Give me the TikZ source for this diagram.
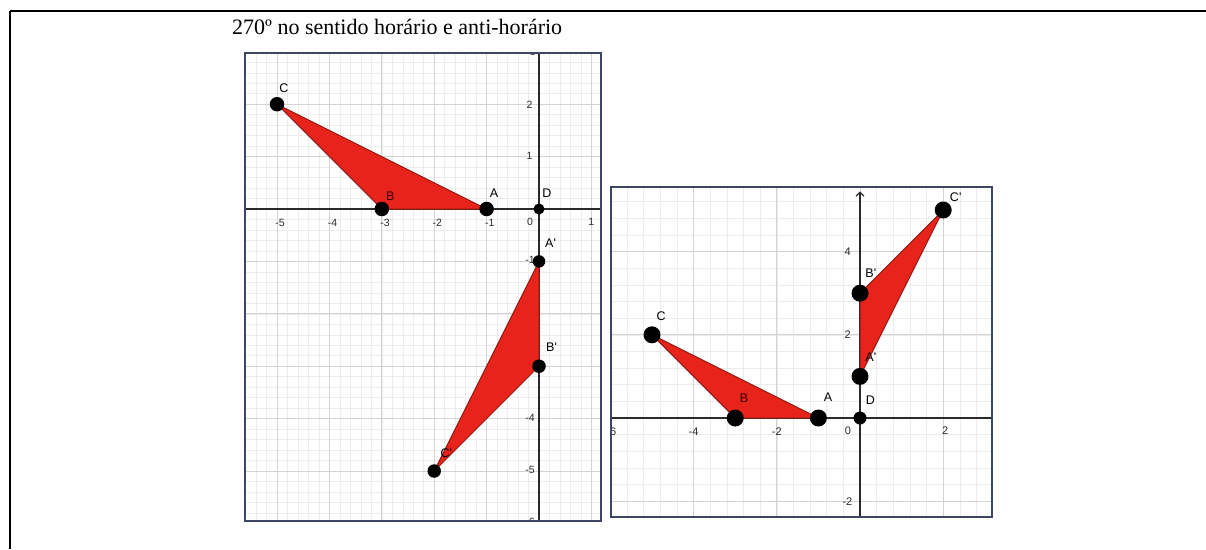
\documentclass[tikz,border=0pt]{standalone}
\usepackage{fontspec}
\setmainfont{Liberation Serif}
\newfontfamily\labfont{Liberation Sans}
\usetikzlibrary{arrows.meta}
\definecolor{framec}{HTML}{3C4766}
\definecolor{redfill}{HTML}{E8231B}
\definecolor{rededge}{HTML}{8E1A12}
\definecolor{gridmaj}{HTML}{D3D3D3}
\definecolor{gridmin}{HTML}{ECECEC}
\definecolor{axisc}{HTML}{2A2A2A}
\tikzset{
  gframe/.style={draw=framec,line width=1.8pt},
  gminor/.style={draw=gridmin,line width=0.5pt},
  gmajor/.style={draw=gridmaj,line width=0.9pt},
  gaxis/.style={draw=axisc,line width=1.3pt},
  tri/.style={fill=redfill,draw=rededge,line width=1pt,line join=round},
  dotL/.style={circle,fill=black,inner sep=0pt,minimum size=14.5pt},
  dotLs/.style={circle,fill=black,inner sep=0pt,minimum size=11pt},
  dotR/.style={circle,fill=black,inner sep=0pt,minimum size=17pt},
  dotRs/.style={circle,fill=black,inner sep=0pt,minimum size=13pt},
  tickL/.style={inner sep=0pt,font=\labfont\fontsize{10.5}{12}\selectfont,text=axisc},
  tickR/.style={inner sep=0pt,font=\labfont\fontsize{11}{13}\selectfont,text=axisc},
  ptlab/.style={inner sep=0pt,font=\labfont\fontsize{12.5}{14}\selectfont,text=black},
  border/.style={draw=black,line width=1.2pt},
  borderthick/.style={draw=black,line width=2.4pt}
}
\begin{document}
\begin{tikzpicture}[x=1pt,y=1pt]
\useasboundingbox (0,0) rectangle (1206,-549);
% table borders
\coordinate (tl) at (10,-11);
\coordinate (tm) at (1004,-11);
\coordinate (tr) at (1206,-11);
\coordinate (bl) at (10,-549);
\draw[border] (tl) -- (tm);
\draw[borderthick] (tm) -- (tr);
\draw[borderthick] (tl) -- (bl);
% title
\node[anchor=base west,inner sep=0pt,font=\fontsize{22}{26}\selectfont] (title) at (232,-34) {270º no sentido horário e anti-horário};

% ================= LEFT GRAPH =================
\begin{scope}[shift={(539pt,-209pt)},x=52.4pt,y=52.4pt]
  \def\xa{-5.61}\def\xb{1.18}\def\ya{-5.95}\def\yb{2.98}
  \begin{scope}
    \clip (\xa,\ya) rectangle (\xb,\yb);
    \foreach \i in {-29,...,6} \draw[gminor] (\i/5,\ya) -- (\i/5,\yb);
    \foreach \j in {-30,...,15} \draw[gminor] (\xa,\j/5) -- (\xb,\j/5);
    \foreach \i in {-5,...,1} \draw[gmajor] (\i,\ya) -- (\i,\yb);
    \foreach \j in {-5,...,2} \draw[gmajor] (\xa,\j) -- (\xb,\j);
    \coordinate (Lxl) at (\xa,0); \coordinate (Lxr) at (\xb,0);
    \coordinate (Lyb) at (0,\ya); \coordinate (Lyt) at (0,\yb);
    \draw[gaxis] (Lxl) -- (Lxr);
    \draw[gaxis] (Lyb) -- (Lyt);
    \foreach \i in {-5,-4,-3,-2,-1}
      \node[tickL] (Ltx\i) at (\i+0.06,-0.26) {-\the\numexpr-\i\relax};
    \node[tickL] (Ltx0) at (-0.17,-0.25) {0};
    \node[tickL] (Ltx1) at (1.0,-0.25) {1};
    \node[tickL,anchor=east] (Lty3) at (-0.06,3.0) {3};
    \node[tickL,anchor=east] (Lty2) at (-0.12,1.98) {2};
    \node[tickL,anchor=east] (Lty1) at (-0.12,1.01) {1};
    \foreach \j in {-1,-2,-3,-4,-5,-6}
      \node[tickL,anchor=east] (Lty\j) at (-0.08,\j+0.02) {-\the\numexpr-\j\relax};
  \end{scope}
  % triangles
  \coordinate (LA) at (-1,0); \coordinate (LB) at (-3,0); \coordinate (LC) at (-5,2);
  \coordinate (LAp) at (0,-1); \coordinate (LBp) at (0,-3); \coordinate (LCp) at (-2,-5);
  \filldraw[tri] (LA) -- (LB) -- (LC) -- cycle;
  \filldraw[tri] (LAp) -- (LBp) -- (LCp) -- cycle;
  % points
  \node[dotL] (LAd) at (LA) {};
  \node[dotL] (LBd) at (LB) {};
  \node[dotL] (LCd) at (LC) {};
  \node[dotLs] (LDd) at (0,0) {};
  \node[dotL,minimum size=12.5pt] (LApd) at (LAp) {};
  \node[dotL,minimum size=13.5pt] (LBpd) at (LBp) {};
  \node[dotL,minimum size=13.5pt] (LCpd) at (LCp) {};
  % point labels
  \node[ptlab] (LAl) at (-0.86,0.31) {A};
  \node[ptlab,text=black!80!red] (LBl) at (-2.84,0.25) {B};
  \node[ptlab] (LCl) at (-4.87,2.31) {C};
  \node[ptlab] (LDl) at (0.15,0.31) {D};
  \node[ptlab] (LApl) at (0.22,-0.65) {A'};
  \node[ptlab] (LBpl) at (0.24,-2.63) {B'};
  \node[ptlab] (LCpl) at (-1.77,-4.66) {C'};
  % frame
  \draw[gframe] (\xa,\ya) rectangle (\xb,\yb);
\end{scope}

% ================= RIGHT GRAPH =================
\begin{scope}[shift={(860pt,-418pt)},x=41.6pt,y=41.6pt]
  \def\xa{-5.99}\def\xb{3.17}\def\ya{-2.38}\def\yb{5.55}
  \begin{scope}
    \clip (\xa,\ya) rectangle (\xb,\yb);
    \foreach \i in {-15,...,8} \draw[gminor] (\i*0.4,\ya) -- (\i*0.4,\yb);
    \foreach \j in {-6,...,14} \draw[gminor] (\xa,\j*0.4) -- (\xb,\j*0.4);
    \foreach \i in {-6,-4,-2,0,2} \draw[gmajor] (\i,\ya) -- (\i,\yb);
    \foreach \j in {-2,0,2,4} \draw[gmajor] (\xa,\j) -- (\xb,\j);
    \coordinate (Rxl) at (\xa,0); \coordinate (Rxr) at (\xb,0);
    \coordinate (Ryb) at (0,\ya); \coordinate (Ryt) at (0,5.45);
    \draw[gaxis] (Rxl) -- (Rxr);
    \draw[gaxis,-{Straight Barb[length=4pt,width=8pt]}] (Ryb) -- (Ryt);
    \node[tickR] (Rtx6) at (-5.98,-0.34) {-6};
    \node[tickR] (Rtx4) at (-4.0,-0.34) {-4};
    \node[tickR] (Rtx2) at (-2.0,-0.34) {-2};
    \node[tickR] (Rtx0) at (-0.29,-0.30) {0};
    \node[tickR] (Rtxp2) at (2.05,-0.30) {2};
    \node[tickR,anchor=east] (Rty4) at (-0.22,4.0) {4};
    \node[tickR,anchor=east] (Rty2) at (-0.22,2.0) {2};
    \node[tickR,anchor=east] (Rtym2) at (-0.18,-2.0) {-2};
  \end{scope}
  % triangles
  \coordinate (RA) at (-1,0); \coordinate (RB) at (-3,0); \coordinate (RC) at (-5,2);
  \coordinate (RAp) at (0,1); \coordinate (RBp) at (0,3); \coordinate (RCp) at (2,5);
  \filldraw[tri] (RA) -- (RB) -- (RC) -- cycle;
  \filldraw[tri] (RAp) -- (RBp) -- (RCp) -- cycle;
  % points
  \node[dotR] (RAd) at (RA) {};
  \node[dotR] (RBd) at (RB) {};
  \node[dotR] (RCd) at (RC) {};
  \node[dotRs] (RDd) at (0,0) {};
  \node[dotR] (RApd) at (RAp) {};
  \node[dotR] (RBpd) at (RBp) {};
  \node[dotR] (RCpd) at (RCp) {};
  % labels
  \node[ptlab] (RAl) at (-0.77,0.50) {A};
  \node[ptlab,text=black!80!red] (RBl) at (-2.79,0.48) {B};
  \node[ptlab] (RCl) at (-4.78,2.45) {C};
  \node[ptlab] (RDl) at (0.25,0.43) {D};
  \node[ptlab] (RApl) at (0.26,1.47) {A'};
  \node[ptlab] (RBpl) at (0.26,3.49) {B'};
  \node[ptlab] (RCpl) at (2.30,5.31) {C'};
  % frame
  \draw[gframe] (\xa,\ya) rectangle (\xb,\yb);
\end{scope}
\end{tikzpicture}
\end{document}
